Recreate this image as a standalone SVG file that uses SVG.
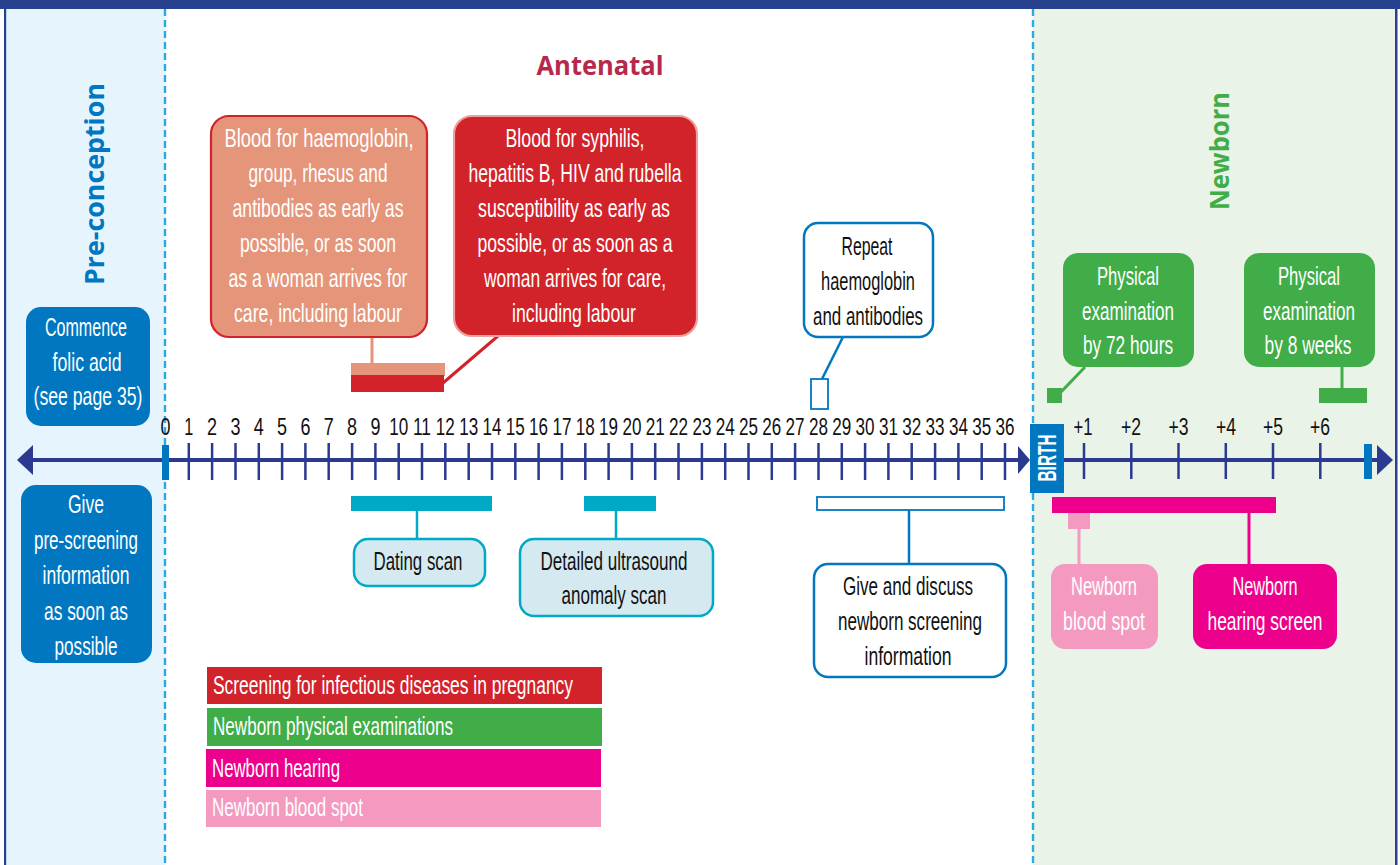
<svg xmlns="http://www.w3.org/2000/svg" width="1400" height="865" viewBox="0 0 1400 865">
<style>
.t{font-family:"Liberation Sans Narrow","Liberation Sans",Arial,sans-serif;font-size:26px;text-anchor:middle;}
.w{fill:#ffffff;}
.k{fill:#111111;}
.num{font-family:"Liberation Sans Narrow","Liberation Sans",Arial,sans-serif;font-size:23px;text-anchor:middle;fill:#111111;}
.lg{font-family:"Liberation Sans Narrow","Liberation Sans",Arial,sans-serif;font-size:26px;fill:#ffffff;}
.ttl{font-family:"Open Sans","Noto Sans",sans-serif;font-weight:bold;font-size:27px;text-anchor:middle;}
.dash{stroke:#29abe2;stroke-width:2.4;stroke-dasharray:7 4;fill:none;}
.axis{stroke:#2b3990;fill:none;}
</style>
<!-- background panels -->
<rect x="0" y="0" width="1400" height="865" fill="#ffffff"/>
<rect x="5" y="0" width="160" height="865" fill="#e6f5fd"/>
<rect x="1033" y="0" width="363" height="865" fill="#eaf3e8"/>
<rect x="0" y="0" width="1400" height="9" fill="#27418e"/>
<rect x="4" y="0" width="2.2" height="865" fill="#27418e"/>
<rect x="1395" y="0" width="2.5" height="865" fill="#27418e"/>
<line class="dash" x1="165" y1="9" x2="165" y2="865"/>
<line class="dash" x1="1033" y1="9" x2="1033" y2="865"/>

<!-- titles -->
<text class="ttl" x="600" y="75" fill="#b8284c" textLength="127" lengthAdjust="spacingAndGlyphs">Antenatal</text>
<text class="ttl" transform="translate(104,184) rotate(-90)" x="0" y="0" fill="#0077c0" textLength="202" lengthAdjust="spacingAndGlyphs">Pre-conception</text>
<text class="ttl" transform="translate(1229,151) rotate(-90)" x="0" y="0" fill="#40ad48" textLength="118" lengthAdjust="spacingAndGlyphs">Newborn</text>

<!-- axis -->
<g id="axis">
<line class="axis" x1="30" y1="460" x2="1020" y2="460" stroke-width="4"/>
<polygon points="17,460 33,445 33,475" fill="#2b3990"/>
<polygon points="1030,460 1018,446 1018,474" fill="#2b3990"/>
<rect x="162" y="445" width="7" height="35" fill="#0077c0"/>
<path class="axis" stroke-width="2.5" d="M188.8 443V480M212.1 443V480M235.5 443V480M258.8 443V480M282.1 443V480M305.4 443V480M328.7 443V480M352.1 443V480M375.4 443V480M398.7 443V480M422 443V480M445.3 443V480M468.7 443V480M492 443V480M515.3 443V480M538.6 443V480M561.9 443V480M585.3 443V480M608.6 443V480M631.9 443V480M655.2 443V480M678.5 443V480M701.9 443V480M725.2 443V480M748.5 443V480M771.8 443V480M795.1 443V480M818.5 443V480M841.8 443V480M865.1 443V480M888.4 443V480M911.7 443V480M935.1 443V480M958.4 443V480M981.7 443V480M1005 443V480"/>
<line class="axis" x1="1063" y1="460" x2="1380" y2="460" stroke-width="4"/>
<polygon points="1393,460 1377,445 1377,475" fill="#2b3990"/>
<rect x="1364" y="444" width="8" height="35" fill="#0077c0"/>
<path class="axis" stroke-width="2.5" d="M1084 443V479M1131.3 443V479M1178.5 443V479M1225.8 443V479M1273 443V479M1320.3 443V479"/>
<g class="num">
<text x="165.5" y="435" textLength="10" lengthAdjust="spacingAndGlyphs">0</text>
<text x="188.8" y="435" textLength="9" lengthAdjust="spacingAndGlyphs">1</text>
<text x="212.1" y="435" textLength="10" lengthAdjust="spacingAndGlyphs">2</text>
<text x="235.5" y="435" textLength="10" lengthAdjust="spacingAndGlyphs">3</text>
<text x="258.8" y="435" textLength="10" lengthAdjust="spacingAndGlyphs">4</text>
<text x="282.1" y="435" textLength="10" lengthAdjust="spacingAndGlyphs">5</text>
<text x="305.4" y="435" textLength="10" lengthAdjust="spacingAndGlyphs">6</text>
<text x="328.7" y="435" textLength="10" lengthAdjust="spacingAndGlyphs">7</text>
<text x="352.1" y="435" textLength="10" lengthAdjust="spacingAndGlyphs">8</text>
<text x="375.4" y="435" textLength="10" lengthAdjust="spacingAndGlyphs">9</text>
<text x="398.7" y="435" textLength="19" lengthAdjust="spacingAndGlyphs">10</text>
<text x="422" y="435" textLength="18" lengthAdjust="spacingAndGlyphs">11</text>
<text x="445.3" y="435" textLength="19" lengthAdjust="spacingAndGlyphs">12</text>
<text x="468.7" y="435" textLength="19" lengthAdjust="spacingAndGlyphs">13</text>
<text x="492" y="435" textLength="19" lengthAdjust="spacingAndGlyphs">14</text>
<text x="515.3" y="435" textLength="19" lengthAdjust="spacingAndGlyphs">15</text>
<text x="538.6" y="435" textLength="19" lengthAdjust="spacingAndGlyphs">16</text>
<text x="561.9" y="435" textLength="19" lengthAdjust="spacingAndGlyphs">17</text>
<text x="585.3" y="435" textLength="19" lengthAdjust="spacingAndGlyphs">18</text>
<text x="608.6" y="435" textLength="19" lengthAdjust="spacingAndGlyphs">19</text>
<text x="631.9" y="435" textLength="19" lengthAdjust="spacingAndGlyphs">20</text>
<text x="655.2" y="435" textLength="19" lengthAdjust="spacingAndGlyphs">21</text>
<text x="678.5" y="435" textLength="19" lengthAdjust="spacingAndGlyphs">22</text>
<text x="701.9" y="435" textLength="19" lengthAdjust="spacingAndGlyphs">23</text>
<text x="725.2" y="435" textLength="19" lengthAdjust="spacingAndGlyphs">24</text>
<text x="748.5" y="435" textLength="19" lengthAdjust="spacingAndGlyphs">25</text>
<text x="771.8" y="435" textLength="19" lengthAdjust="spacingAndGlyphs">26</text>
<text x="795.1" y="435" textLength="19" lengthAdjust="spacingAndGlyphs">27</text>
<text x="818.5" y="435" textLength="19" lengthAdjust="spacingAndGlyphs">28</text>
<text x="841.8" y="435" textLength="19" lengthAdjust="spacingAndGlyphs">29</text>
<text x="865.1" y="435" textLength="19" lengthAdjust="spacingAndGlyphs">30</text>
<text x="888.4" y="435" textLength="19" lengthAdjust="spacingAndGlyphs">31</text>
<text x="911.7" y="435" textLength="19" lengthAdjust="spacingAndGlyphs">32</text>
<text x="935.1" y="435" textLength="19" lengthAdjust="spacingAndGlyphs">33</text>
<text x="958.4" y="435" textLength="19" lengthAdjust="spacingAndGlyphs">34</text>
<text x="981.7" y="435" textLength="19" lengthAdjust="spacingAndGlyphs">35</text>
<text x="1005" y="435" textLength="19" lengthAdjust="spacingAndGlyphs">36</text>
<text x="1083" y="435" textLength="19" lengthAdjust="spacingAndGlyphs">+1</text>
<text x="1131" y="435" textLength="20" lengthAdjust="spacingAndGlyphs">+2</text>
<text x="1178.5" y="435" textLength="20" lengthAdjust="spacingAndGlyphs">+3</text>
<text x="1226" y="435" textLength="20" lengthAdjust="spacingAndGlyphs">+4</text>
<text x="1273" y="435" textLength="20" lengthAdjust="spacingAndGlyphs">+5</text>
<text x="1320" y="435" textLength="20" lengthAdjust="spacingAndGlyphs">+6</text>
</g>
</g>

<g id="birth">
<rect x="1030" y="424" width="34" height="69" fill="#0077c0"/>
<text class="t w" transform="translate(1056,458) rotate(-90)" x="0" y="0" font-size="24" font-weight="bold" textLength="47" lengthAdjust="spacingAndGlyphs">BIRTH</text>
</g>

<!-- connectors -->
<g id="connectors" fill="none">
<line x1="372" y1="337" x2="372" y2="364" stroke="#e5957a" stroke-width="3"/>
<line x1="498" y1="336" x2="443" y2="383" stroke="#d2232a" stroke-width="3"/>
<line x1="843" y1="337" x2="822" y2="379" stroke="#0077c0" stroke-width="2.5"/>
<line x1="417" y1="511" x2="417" y2="539" stroke="#00a9c6" stroke-width="2.5"/>
<line x1="616" y1="511" x2="616" y2="539" stroke="#00a9c6" stroke-width="2.5"/>
<line x1="909" y1="510" x2="909" y2="564" stroke="#0077c0" stroke-width="2.5"/>
<line x1="1085" y1="367" x2="1061" y2="392" stroke="#40ad48" stroke-width="3"/>
<line x1="1342" y1="367" x2="1342" y2="388" stroke="#40ad48" stroke-width="3"/>
<line x1="1079" y1="529" x2="1079" y2="564" stroke="#f49ac1" stroke-width="3"/>
<line x1="1249" y1="513" x2="1249" y2="564" stroke="#ec008c" stroke-width="3"/>
</g>

<!-- timeline bars -->
<g id="bars">
<rect x="351" y="363" width="94" height="13" fill="#e5957a"/>
<rect x="351" y="375" width="93" height="17" fill="#d2232a"/>
<rect x="811" y="379" width="17" height="30" fill="#ffffff" stroke="#0077c0" stroke-width="1.8"/>
<rect x="351" y="496" width="141" height="15" fill="#00a9c6"/>
<rect x="584" y="496" width="72" height="15" fill="#00a9c6"/>
<rect x="817" y="497" width="187" height="13" fill="#ffffff" stroke="#0077c0" stroke-width="1.8"/>
<rect x="1047" y="388" width="15" height="15" fill="#40ad48"/>
<rect x="1319" y="388" width="48" height="15" fill="#40ad48"/>
<rect x="1052" y="497" width="224" height="16" fill="#ec008c"/>
<rect x="1068" y="513" width="22" height="16" fill="#f49ac1"/>
</g>

<g id="blood-haemoglobin">
<rect x="211" y="116" width="216" height="221" rx="18" fill="#e5957a" stroke="#d2232a" stroke-width="2.2"/>
<text class="t w" x="319" y="147" textLength="189" lengthAdjust="spacingAndGlyphs">Blood for haemoglobin,</text>
<text class="t w" x="318" y="182" textLength="139" lengthAdjust="spacingAndGlyphs">group, rhesus and</text>
<text class="t w" x="318" y="217" textLength="171" lengthAdjust="spacingAndGlyphs">antibodies as early as</text>
<text class="t w" x="318" y="252" textLength="156" lengthAdjust="spacingAndGlyphs">possible, or as soon</text>
<text class="t w" x="318" y="287" textLength="179" lengthAdjust="spacingAndGlyphs">as a woman arrives for</text>
<text class="t w" x="318" y="322" textLength="168" lengthAdjust="spacingAndGlyphs">care, including labour</text>
</g>

<g id="blood-syphilis">
<rect x="454" y="116" width="243" height="220" rx="18" fill="#d2232a" stroke="#eea0a0" stroke-width="2.2"/>
<text class="t w" x="575" y="147" textLength="139" lengthAdjust="spacingAndGlyphs">Blood for syphilis,</text>
<text class="t w" x="575" y="182" textLength="213" lengthAdjust="spacingAndGlyphs">hepatitis B, HIV and rubella</text>
<text class="t w" x="574" y="217" textLength="192" lengthAdjust="spacingAndGlyphs">susceptibility as early as</text>
<text class="t w" x="575" y="252" textLength="195" lengthAdjust="spacingAndGlyphs">possible, or as soon as a</text>
<text class="t w" x="575" y="287" textLength="182" lengthAdjust="spacingAndGlyphs">woman arrives for care,</text>
<text class="t w" x="574" y="322" textLength="124" lengthAdjust="spacingAndGlyphs">including labour</text>
</g>

<g id="repeat">
<rect x="804" y="223" width="129" height="114" rx="14" fill="#ffffff" stroke="#0077c0" stroke-width="2.5"/>
<text class="t k" x="867" y="255" textLength="51" lengthAdjust="spacingAndGlyphs">Repeat</text>
<text class="t k" x="868" y="290" textLength="94" lengthAdjust="spacingAndGlyphs">haemoglobin</text>
<text class="t k" x="868" y="325" textLength="110" lengthAdjust="spacingAndGlyphs">and antibodies</text>
</g>

<g id="folic">
<rect x="26" y="307" width="124" height="119" rx="15" fill="#0077c0"/>
<text class="t w" x="86" y="336" textLength="82" lengthAdjust="spacingAndGlyphs">Commence</text>
<text class="t w" x="87" y="371" textLength="69" lengthAdjust="spacingAndGlyphs">folic acid</text>
<text class="t w" x="88" y="405" textLength="109" lengthAdjust="spacingAndGlyphs">(see page 35)</text>
</g>

<g id="prescreening">
<rect x="21" y="485" width="131" height="178" rx="15" fill="#0077c0"/>
<text class="t w" x="86" y="513" textLength="36" lengthAdjust="spacingAndGlyphs">Give</text>
<text class="t w" x="86" y="549" textLength="104" lengthAdjust="spacingAndGlyphs">pre-screening</text>
<text class="t w" x="86" y="584" textLength="87" lengthAdjust="spacingAndGlyphs">information</text>
<text class="t w" x="86" y="620" textLength="84" lengthAdjust="spacingAndGlyphs">as soon as</text>
<text class="t w" x="86" y="655" textLength="63" lengthAdjust="spacingAndGlyphs">possible</text>
</g>

<g id="dating">
<rect x="354" y="539" width="131" height="47" rx="14" fill="#d4e9f0" stroke="#00a9c6" stroke-width="2.5"/>
<text class="t k" x="418" y="570" textLength="89" lengthAdjust="spacingAndGlyphs">Dating scan</text>
</g>

<g id="anomaly">
<rect x="520" y="539" width="193" height="77" rx="14" fill="#d4e9f0" stroke="#00a9c6" stroke-width="2.5"/>
<text class="t k" x="614" y="570" textLength="147" lengthAdjust="spacingAndGlyphs">Detailed ultrasound</text>
<text class="t k" x="614" y="604" textLength="105" lengthAdjust="spacingAndGlyphs">anomaly scan</text>
</g>

<g id="newborn-info">
<rect x="814" y="564" width="192" height="113" rx="14" fill="#ffffff" stroke="#0077c0" stroke-width="2.5"/>
<text class="t k" x="908" y="595" textLength="130" lengthAdjust="spacingAndGlyphs">Give and discuss</text>
<text class="t k" x="910" y="630" textLength="144" lengthAdjust="spacingAndGlyphs">newborn screening</text>
<text class="t k" x="908" y="665" textLength="87" lengthAdjust="spacingAndGlyphs">information</text>
</g>

<g id="exam-72h">
<rect x="1063" y="253" width="131" height="114" rx="15" fill="#40ad48"/>
<text class="t w" x="1128" y="285" textLength="62" lengthAdjust="spacingAndGlyphs">Physical</text>
<text class="t w" x="1128" y="320" textLength="92" lengthAdjust="spacingAndGlyphs">examination</text>
<text class="t w" x="1128" y="354" textLength="90" lengthAdjust="spacingAndGlyphs">by 72 hours</text>
</g>

<g id="exam-8w">
<rect x="1244" y="253" width="131" height="114" rx="15" fill="#40ad48"/>
<text class="t w" x="1309" y="285" textLength="62" lengthAdjust="spacingAndGlyphs">Physical</text>
<text class="t w" x="1309" y="320" textLength="92" lengthAdjust="spacingAndGlyphs">examination</text>
<text class="t w" x="1308" y="354" textLength="87" lengthAdjust="spacingAndGlyphs">by 8 weeks</text>
</g>

<g id="blood-spot">
<rect x="1051" y="564" width="107" height="85" rx="14" fill="#f49ac1"/>
<text class="t w" x="1104" y="595" textLength="66" lengthAdjust="spacingAndGlyphs">Newborn</text>
<text class="t w" x="1104" y="630" textLength="82" lengthAdjust="spacingAndGlyphs">blood spot</text>
</g>

<g id="hearing">
<rect x="1193" y="564" width="144" height="85" rx="14" fill="#ec008c"/>
<text class="t w" x="1265" y="595" textLength="65" lengthAdjust="spacingAndGlyphs">Newborn</text>
<text class="t w" x="1265" y="630" textLength="115" lengthAdjust="spacingAndGlyphs">hearing screen</text>
</g>

<g id="legend">
<rect x="207" y="667" width="395" height="37" fill="#d2232a"/>
<rect x="207" y="708" width="395" height="38" fill="#40ad48"/>
<rect x="206" y="749" width="395" height="38" fill="#ec008c"/>
<rect x="206" y="790" width="395" height="37" fill="#f49ac1"/>
<text class="lg" x="213" y="694" textLength="360" lengthAdjust="spacingAndGlyphs">Screening for infectious diseases in pregnancy</text>
<text class="lg" x="213" y="735" textLength="240" lengthAdjust="spacingAndGlyphs">Newborn physical examinations</text>
<text class="lg" x="212" y="777" textLength="128" lengthAdjust="spacingAndGlyphs">Newborn hearing</text>
<text class="lg" x="212" y="816" textLength="151" lengthAdjust="spacingAndGlyphs">Newborn blood spot</text>
</g>
</svg>
